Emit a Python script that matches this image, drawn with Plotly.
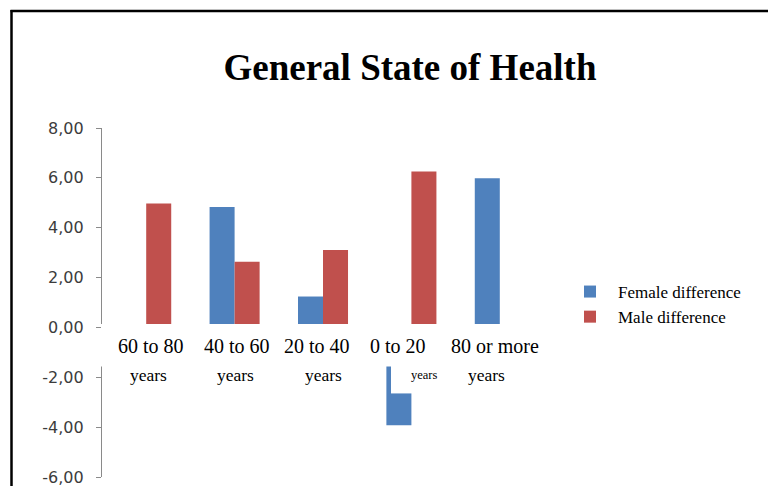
import plotly.graph_objects as go

# Age groups (axis order) and their two-line labels
categories = ["60 to 80 years", "40 to 60 years", "20 to 40 years", "0 to 20 years", "80 or more years"]
label_top = ["60 to 80", "40 to 60", "20 to 40", "0 to 20", "80 or more"]
label_bottom = ["years", "years", "years", "years", "years"]

# Differences by sex
female_diff = [0.10, 4.83, 1.24, -3.92, 5.98]
male_diff = [4.97, 2.63, 3.11, 6.26, 0.00]

y_ticks = [-6, -4, -2, 0, 2, 4, 6, 8]
y_tick_text = [f"{v:.2f}".replace(".", ",") for v in y_ticks]

W, H = 768, 486
ML, MR, MT, MB = 102, 224, 128, 9
PW, PH = W - ML - MR, H - MT - MB


def px_to_paper_x(px):
    return (px - ML) / PW


def px_to_paper_y(py):
    return (H - MB - py) / PH


fig = go.Figure()
fig.add_trace(go.Bar(x=categories, y=female_diff, name="Female difference",
                     marker=dict(color="#4F81BD", line=dict(width=0))))
fig.add_trace(go.Bar(x=categories, y=male_diff, name="Male difference",
                     marker=dict(color="#C0504D", line=dict(width=0))))

serif = "Liberation Serif, Times New Roman, serif"

# Two-line category labels laid over the zero line
top_shift = [5, 2, -6, -13, -5]
bottom_shift = [2, 1, 0, 13, -13]
bottom_size = [17.5, 17.5, 17.5, 12.5, 17.5]
annotations = []
for i, cat in enumerate(categories):
    annotations.append(dict(x=cat, xref="x", y=0, yref="y", yshift=-19, xshift=top_shift[i],
                            text=label_top[i], showarrow=False,
                            font=dict(family=serif, size=20, color="#000000")))
    annotations.append(dict(x=cat, xref="x", y=0, yref="y", yshift=-48, xshift=bottom_shift[i],
                            text=label_bottom[i], showarrow=False,
                            font=dict(family=serif, size=bottom_size[i], color="#000000")))

# white band carrying the category labels (offsets below the zero line, in pixels)
zero_px = MT + PH * 8 / 14
shapes = [
    dict(type="rect", xref="paper", yref="paper", layer="above",
         x0=px_to_paper_x(101), x1=px_to_paper_x(562),
         y0=px_to_paper_y(zero_px + 39), y1=px_to_paper_y(zero_px - 3.5),
         fillcolor="white", line=dict(width=0)),
    dict(type="rect", xref="paper", yref="paper", layer="above",
         x0=px_to_paper_x(391), x1=px_to_paper_x(413),
         y0=px_to_paper_y(zero_px + 66), y1=px_to_paper_y(zero_px + 38),
         fillcolor="white", line=dict(width=0)),
    # frame lines on the left and top
    dict(type="line", xref="paper", yref="paper", layer="above",
         x0=px_to_paper_x(11.5), x1=px_to_paper_x(11.5), y0=px_to_paper_y(10), y1=px_to_paper_y(490),
         line=dict(color="#000000", width=2.5)),
    dict(type="line", xref="paper", yref="paper", layer="above",
         x0=px_to_paper_x(10.5), x1=px_to_paper_x(770), y0=px_to_paper_y(11), y1=px_to_paper_y(11),
         line=dict(color="#000000", width=2.5)),
]

fig.update_layout(
    width=W, height=H,
    margin=dict(l=ML, r=MR, t=MT, b=MB, autoexpand=False),
    paper_bgcolor="white", plot_bgcolor="white",
    barmode="group", bargap=0.434, bargroupgap=0,
    title=dict(text="General State of Health", x=410 / W, xref="container", xanchor="center",
               y=1 - 67 / H, yref="container", yanchor="middle",
               font=dict(family=serif, size=37, color="#000000", weight="bold")),
    xaxis=dict(showticklabels=False, showline=False, showgrid=False, zeroline=False, ticks=""),
    yaxis=dict(range=[-6, 8], tickvals=y_ticks, ticktext=y_tick_text,
               showline=True, linecolor="#8a8a8a", linewidth=1.2,
               ticks="outside", ticklen=5, tickcolor="#8a8a8a",
               showgrid=False, zeroline=False, ticklabelstandoff=9,
               ticklabeloverflow="allow",
               tickfont=dict(family="DejaVu Sans, Verdana, sans-serif", size=16, color="#3c3c3c")),
    legend=dict(x=px_to_paper_x(562), y=px_to_paper_y(274), xanchor="left", yanchor="top",
                bgcolor="rgba(0,0,0,0)", font=dict(family=serif, size=17, color="#000000"),
                tracegroupgap=0, itemwidth=46),
    annotations=annotations,
    shapes=shapes,
)

fig.write_html("out.html")
